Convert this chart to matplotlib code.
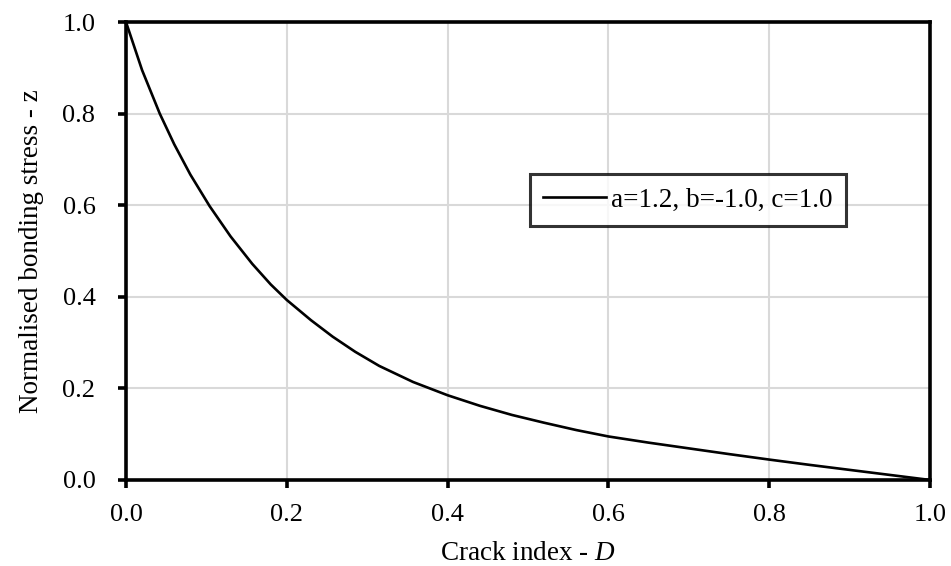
import matplotlib
matplotlib.use("Agg")
import matplotlib.pyplot as plt

# values
crack_index = [0.0, 0.02, 0.042, 0.06, 0.08, 0.104, 0.13, 0.157, 0.18, 0.2,
               0.23, 0.257, 0.285, 0.315, 0.357, 0.40, 0.44, 0.48, 0.52, 0.56,
               0.60, 0.65, 0.70, 0.75, 0.80, 0.85, 0.90, 0.95, 1.0]
bond_stress = [1.0, 0.895, 0.80, 0.733, 0.667, 0.598, 0.532, 0.472, 0.427, 0.393,
               0.349, 0.313, 0.28, 0.249, 0.214, 0.185, 0.162, 0.142, 0.125, 0.109,
               0.095, 0.0815, 0.069, 0.0565, 0.0445, 0.033, 0.022, 0.011, 0.0]
series_label = "a=1.2, b=-1.0, c=1.0"
ticks = [0.0, 0.2, 0.4, 0.6, 0.8, 1.0]

plt.rcParams['font.family'] = ['Liberation Serif', 'DejaVu Serif']
plt.rcParams['mathtext.fontset'] = 'custom'
plt.rcParams['mathtext.rm'] = 'Liberation Serif'
plt.rcParams['mathtext.it'] = 'Liberation Serif:italic'

fig = plt.figure(figsize=(9.51, 5.66), dpi=100)
ax = fig.add_axes([0.1325, 0.152, 0.8455, 0.809])

ax.plot(crack_index, bond_stress, color='black', linewidth=1.9, label=series_label,
        solid_joinstyle='round', zorder=3)

ax.set_xlim(0, 1)
ax.set_ylim(0, 1)
ax.set_xticks(ticks)
ax.set_yticks(ticks)
ax.set_xticklabels(["{:.1f}".format(t) for t in ticks])
ax.set_yticklabels(["{:.1f}".format(t) for t in ticks])
ax.grid(True, color='#d9d9d9', linewidth=1.5)
ax.set_axisbelow(True)

for spine in ax.spines.values():
    spine.set_linewidth(2.6)
    spine.set_color('black')
ax.tick_params(direction='out', length=6, width=2.6, labelsize=19)
ax.tick_params(axis='x', pad=11)
ax.tick_params(axis='y', pad=16)

ax.set_xlabel("Crack index - $\\mathit{D}$", fontsize=19.5, labelpad=11)
ax.set_ylabel("Normalised bonding stress - z", fontsize=19.5, labelpad=13)

leg = ax.legend(loc='center', bbox_to_anchor=(0.699, 0.611), frameon=True, fancybox=False,
                fontsize=19.5, handlelength=2.3, handletextpad=0.2, borderpad=0.5)
leg.get_frame().set_edgecolor('black')
leg.get_frame().set_linewidth(2.2)

fig.savefig("out.png", dpi=100)
